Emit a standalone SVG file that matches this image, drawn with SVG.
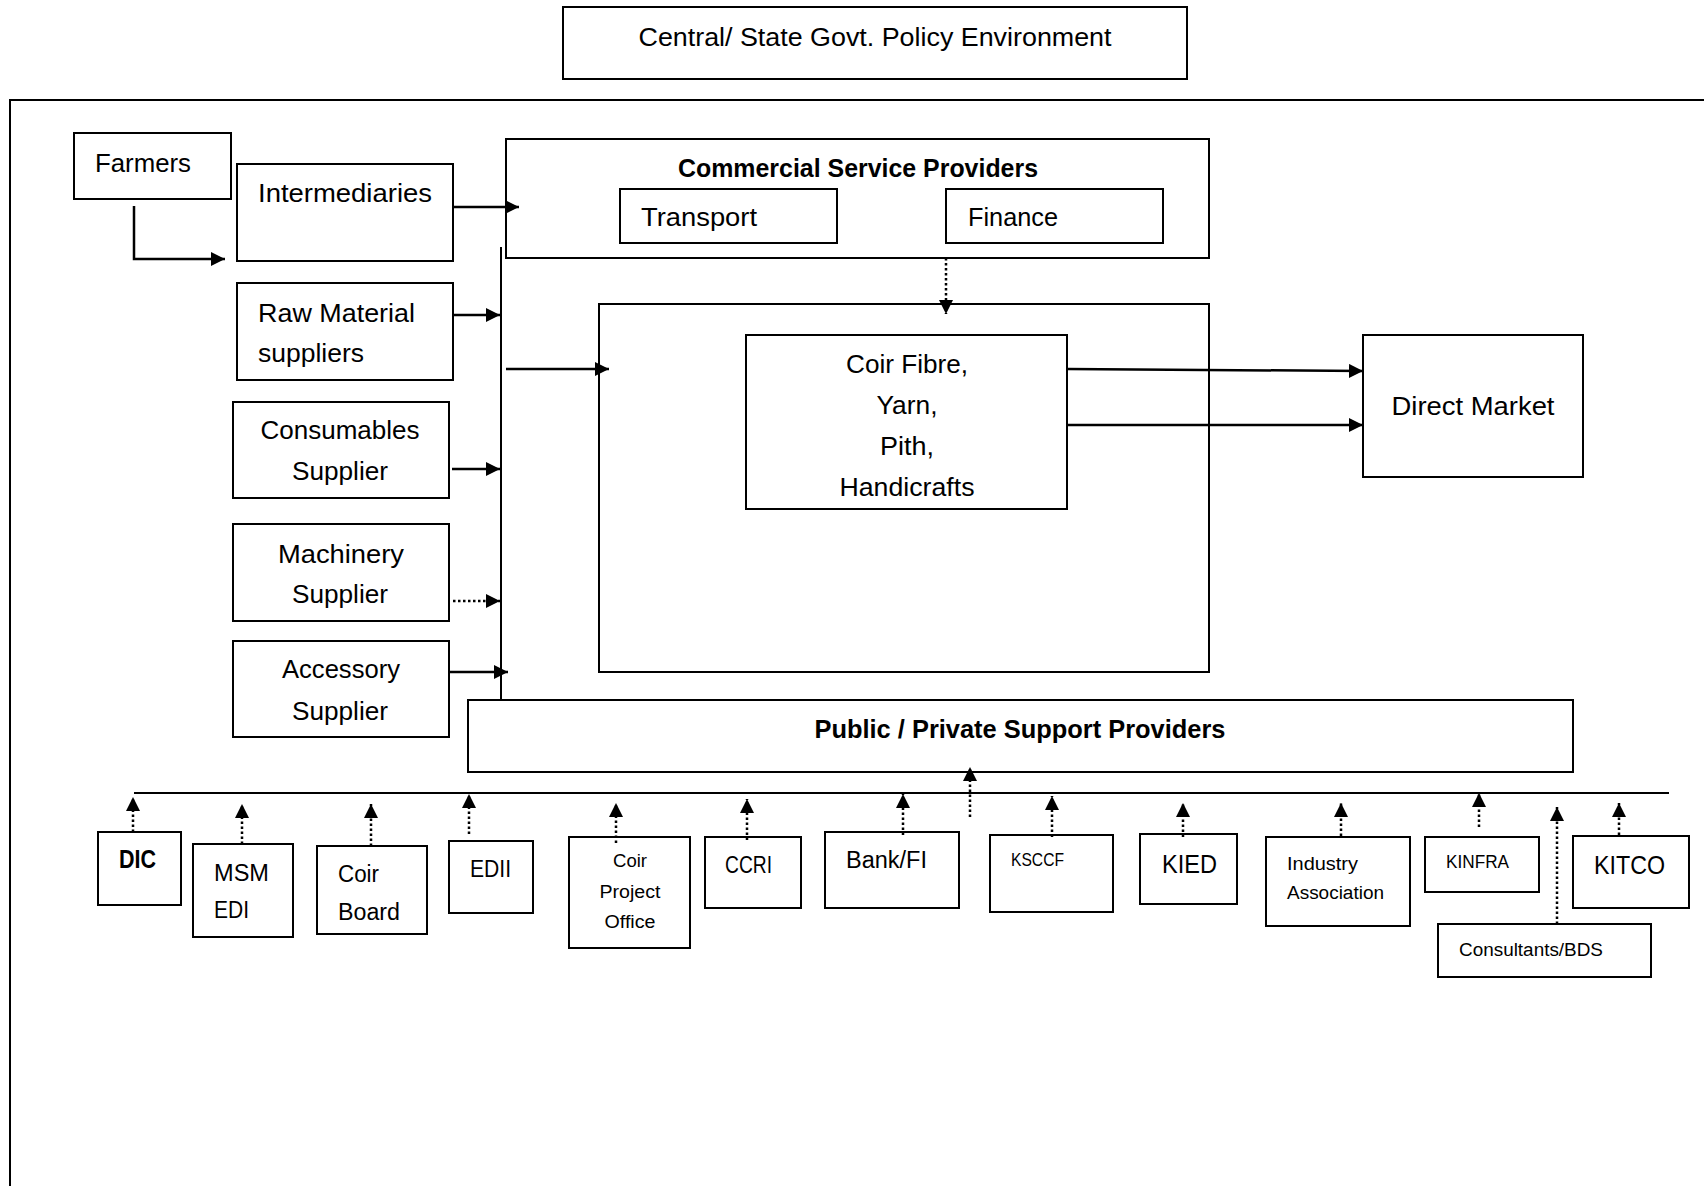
<svg xmlns="http://www.w3.org/2000/svg" width="1704" height="1186" viewBox="0 0 1704 1186">
<style>
.box{fill:#fff;stroke:#000;stroke-width:2}
.t{font-family:"Liberation Sans",Arial,sans-serif;font-size:25px;fill:#000}
.b{font-weight:bold}
.s{font-size:18px}
.m{font-size:23px}
.c{text-anchor:middle}
.ln{fill:none;stroke:#000;stroke-width:2}
.ar{fill:none;stroke:#000;stroke-width:2.5;marker-end:url(#ah)}
.dt{fill:none;stroke:#000;stroke-width:2.5;stroke-dasharray:2.5 2.5;marker-end:url(#ah)}
</style>
<defs>
<marker id="ah" markerUnits="userSpaceOnUse" markerWidth="16" markerHeight="16" refX="14" refY="7" orient="auto">
<path d="M0,0 L14,7 L0,14 Z" fill="#000"/>
</marker>
</defs>
<rect width="1704" height="1186" fill="#fff"/>

<g id="policy"><rect class="box" x="563" y="7" width="624" height="72"/><text class="t c" x="875" y="46" textLength="473" lengthAdjust="spacingAndGlyphs">Central/ State Govt. Policy Environment</text></g>
<g id="frame"><path class="ln" d="M10,1200 V100 H1720"/></g>

<g id="farmers"><rect class="box" x="74" y="133" width="157" height="66"/><text class="t" x="95" y="172" textLength="96" lengthAdjust="spacingAndGlyphs">Farmers</text></g>
<g id="intermediaries"><rect class="box" x="237" y="164" width="216" height="97"/><text class="t" x="258" y="202" textLength="174" lengthAdjust="spacingAndGlyphs">Intermediaries</text></g>
<g id="raw"><rect class="box" x="237" y="283" width="216" height="97"/><text class="t" x="258" y="322" textLength="157" lengthAdjust="spacingAndGlyphs">Raw Material</text><text class="t" x="258" y="362" textLength="106" lengthAdjust="spacingAndGlyphs">suppliers</text></g>
<g id="consumables"><rect class="box" x="233" y="402" width="216" height="96"/><text class="t c" x="340" y="439" textLength="159" lengthAdjust="spacingAndGlyphs">Consumables</text><text class="t c" x="340" y="480" textLength="96" lengthAdjust="spacingAndGlyphs">Supplier</text></g>
<g id="machinery"><rect class="box" x="233" y="524" width="216" height="97"/><text class="t c" x="341" y="563" textLength="126" lengthAdjust="spacingAndGlyphs">Machinery</text><text class="t c" x="340" y="603" textLength="96" lengthAdjust="spacingAndGlyphs">Supplier</text></g>
<g id="accessory"><rect class="box" x="233" y="641" width="216" height="96"/><text class="t c" x="341" y="678" textLength="118" lengthAdjust="spacingAndGlyphs">Accessory</text><text class="t c" x="340" y="720" textLength="96" lengthAdjust="spacingAndGlyphs">Supplier</text></g>

<g id="commercial"><rect class="box" x="506" y="139" width="703" height="119"/><text class="t b c" x="858" y="177" textLength="360" lengthAdjust="spacingAndGlyphs">Commercial Service Providers</text></g>
<g id="transport"><rect class="box" x="620" y="189" width="217" height="54"/><text class="t" x="641" y="226" textLength="116" lengthAdjust="spacingAndGlyphs">Transport</text></g>
<g id="finance"><rect class="box" x="946" y="189" width="217" height="54"/><text class="t" x="968" y="226" textLength="90" lengthAdjust="spacingAndGlyphs">Finance</text></g>

<g id="unit"><rect class="box" x="599" y="304" width="610" height="368"/></g>
<g id="products"><rect class="box" x="746" y="335" width="321" height="174"/>
<text class="t c" x="907" y="373" textLength="122" lengthAdjust="spacingAndGlyphs">Coir Fibre,</text>
<text class="t c" x="907" y="414" textLength="61" lengthAdjust="spacingAndGlyphs">Yarn,</text>
<text class="t c" x="907" y="455" textLength="54" lengthAdjust="spacingAndGlyphs">Pith,</text>
<text class="t c" x="907" y="496" textLength="135" lengthAdjust="spacingAndGlyphs">Handicrafts</text></g>
<g id="market"><rect class="box" x="1363" y="335" width="220" height="142"/><text class="t c" x="1473" y="415" textLength="163" lengthAdjust="spacingAndGlyphs">Direct Market</text></g>

<g id="support"><rect class="box" x="468" y="700" width="1105" height="72"/><text class="t b c" x="1020" y="738" textLength="411" lengthAdjust="spacingAndGlyphs">Public / Private Support Providers</text></g>

<g id="dic"><rect class="box" x="98" y="832" width="83" height="73"/><text class="t b" x="119" y="868" textLength="37" lengthAdjust="spacingAndGlyphs">DIC</text></g>
<g id="msmedi"><rect class="box" x="193" y="844" width="100" height="93"/><text class="t m" x="214" y="881" textLength="55" lengthAdjust="spacingAndGlyphs">MSM</text><text class="t m" x="214" y="918" textLength="35" lengthAdjust="spacingAndGlyphs">EDI</text></g>
<g id="coirboard"><rect class="box" x="317" y="846" width="110" height="88"/><text class="t m" x="338" y="882" textLength="41" lengthAdjust="spacingAndGlyphs">Coir</text><text class="t m" x="338" y="920" textLength="62" lengthAdjust="spacingAndGlyphs">Board</text></g>
<g id="edii"><rect class="box" x="449" y="841" width="84" height="72"/><text class="t m" x="470" y="877" textLength="41" lengthAdjust="spacingAndGlyphs">EDII</text></g>
<g id="cpo"><rect class="box" x="569" y="837" width="121" height="111"/><text class="t s c" x="630" y="867" textLength="34" lengthAdjust="spacingAndGlyphs">Coir</text><text class="t s c" x="630" y="898" textLength="61" lengthAdjust="spacingAndGlyphs">Project</text><text class="t s c" x="630" y="928" textLength="51" lengthAdjust="spacingAndGlyphs">Office</text></g>
<g id="ccri"><rect class="box" x="705" y="837" width="96" height="71"/><text class="t m" x="725" y="873" textLength="47" lengthAdjust="spacingAndGlyphs">CCRI</text></g>
<g id="bank"><rect class="box" x="825" y="832" width="134" height="76"/><text class="t m" x="846" y="868" textLength="81" lengthAdjust="spacingAndGlyphs">Bank/FI</text></g>
<g id="ksccf"><rect class="box" x="990" y="835" width="123" height="77"/><text class="t s" x="1011" y="866" textLength="53" lengthAdjust="spacingAndGlyphs">KSCCF</text></g>
<g id="kied"><rect class="box" x="1140" y="834" width="97" height="70"/><text class="t" x="1162" y="873" textLength="55" lengthAdjust="spacingAndGlyphs">KIED</text></g>
<g id="industry"><rect class="box" x="1266" y="837" width="144" height="89"/><text class="t s" x="1287" y="870" textLength="71" lengthAdjust="spacingAndGlyphs">Industry</text><text class="t s" x="1287" y="899" textLength="97" lengthAdjust="spacingAndGlyphs">Association</text></g>
<g id="kinfra"><rect class="box" x="1425" y="837" width="114" height="55"/><text class="t s" x="1446" y="868" textLength="63" lengthAdjust="spacingAndGlyphs">KINFRA</text></g>
<g id="kitco"><rect class="box" x="1573" y="836" width="116" height="72"/><text class="t" x="1594" y="874" font-size="26" textLength="71" lengthAdjust="spacingAndGlyphs">KITCO</text></g>
<g id="consultants"><rect class="box" x="1438" y="924" width="213" height="53"/><text class="t s" x="1459" y="956" font-size="19" textLength="144" lengthAdjust="spacingAndGlyphs">Consultants/BDS</text></g>

<g id="connectors">
<path class="ln" d="M501,247 V699"/>
<path class="ln" d="M134,793 H1669"/>
<path class="ar" d="M134,206 V259 H225"/>
<path class="ar" d="M453,207 H519"/>
<path class="ar" d="M453,315 H500"/>
<path class="ar" d="M506,369 H609"/>
<path class="ar" d="M452,469 H500"/>
<path class="dt" d="M453,601 H500"/>
<path class="ar" d="M448,672 H508"/>
<path class="dt" d="M946,258 V314"/>
<path class="ar" d="M1067,369 L1363,371"/>
<path class="ar" d="M1067,425 H1363"/>
<path class="dt" d="M970,817 V767"/>
<path class="dt" d="M133,832 V797"/>
<path class="dt" d="M242,844 V804"/>
<path class="dt" d="M371,846 V804"/>
<path class="dt" d="M469,834 V794"/>
<path class="dt" d="M616,843 V803"/>
<path class="dt" d="M747,840 V799"/>
<path class="dt" d="M903,835 V794"/>
<path class="dt" d="M1052,837 V796"/>
<path class="dt" d="M1183,837 V803"/>
<path class="dt" d="M1341,836 V803"/>
<path class="dt" d="M1479,827 V793"/>
<path class="dt" d="M1619,835 V803"/>
<path class="dt" d="M1557,924 V807"/>
</g>
</svg>
